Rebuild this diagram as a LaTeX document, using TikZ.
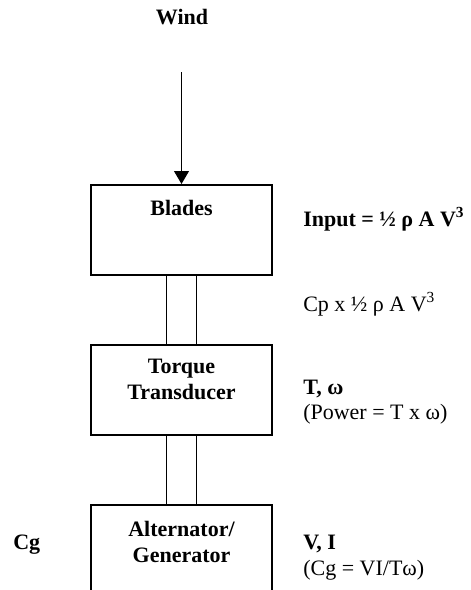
\documentclass[tikz,border=0pt]{standalone}
\usepackage{fontspec}
\setmainfont{Liberation Serif}
\usetikzlibrary{arrows.meta,positioning}
\newcommand{\txtsize}{\fontsize{16.5pt}{19.5pt}\selectfont}

\begin{document}
\begin{tikzpicture}[
  x=0.75pt,y=0.75pt,
  font=\txtsize,
  >={Triangle[length=9.75pt,width=11pt]},
  blk/.style={draw,line width=1.4pt,minimum width=135.75pt,minimum height=67.5pt,inner sep=0pt},
  blktxt/.style={font=\txtsize\bfseries,align=center,inner sep=0pt,anchor=north},
  lbl/.style={inner sep=0pt,anchor=base west},
  bf/.style={font=\txtsize\bfseries},
  ar/.style={->,line width=1.4pt},
  shaft/.style={line width=1.4pt}
]
\useasboundingbox (0,0) rectangle (471,-590);

% ---- input ----
\node[bf,inner sep=0pt,anchor=base] (wind) at (182,-24) {Wind};
\coordinate (windin) at (181.5,-72);

% ---- chain of blocks ----
\node[blk] (blades) at (181.5,-230) {};
\node[blk,below=51pt of blades] (torque) {};
\node[blk,below=51pt of torque] (alt) {};

\node[blktxt,below=12pt of blades.north] (bladestxt) {Blades};
\node[blktxt,below=11.25pt of torque.north] (torquetxt) {Torque\\Transducer};
\node[blktxt,below=12.75pt of alt.north] (alttxt) {Alternator/\\Generator};

% wires
\draw[ar] (windin) -- (blades.north);
\foreach \dx in {-11.25pt,11.25pt}{
  \draw[shaft] ([xshift=\dx]blades.south) -- ([xshift=\dx]torque.north);
  \draw[shaft] ([xshift=\dx]torque.south) -- ([xshift=\dx]alt.north);
}

% ---- quantities ----
\node[lbl,bf] (input) at (303,-226) {Input = ½ ρ A V\textsuperscript{3}};
\node[lbl] (cp) at (303,-311) {Cp x ½ ρ A V\textsuperscript{3}};
\node[lbl,bf] (tw) at (303,-394) {T, ω};
\node[lbl] (power) at (303,-419) {(Power = T x ω)};
\node[lbl,bf] (vi) at (303,-549) {V, I};
\node[lbl] (cgeq) at (303,-575) {(Cg = VI/Tω)};
\node[lbl,bf] (cg) at (13,-549) {Cg};
\end{tikzpicture}
\end{document}
